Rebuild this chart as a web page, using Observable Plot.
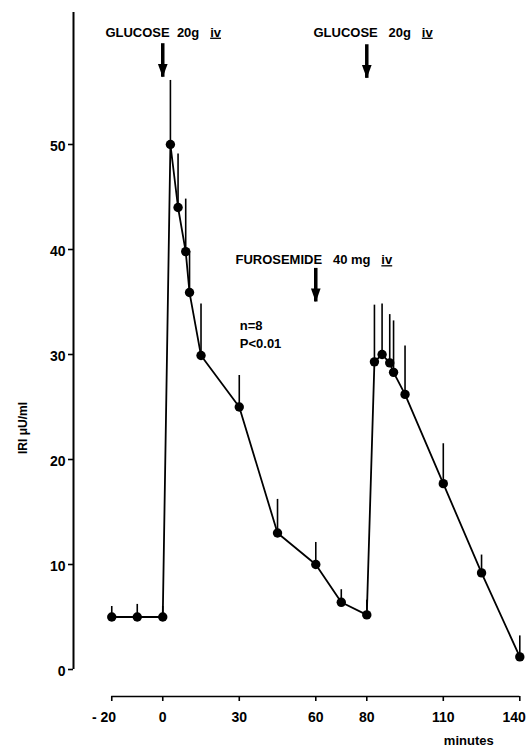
<!DOCTYPE html>
<html>
<head>
<meta charset="utf-8">
<script src="https://cdn.jsdelivr.net/npm/d3@7"></script>
<script src="https://cdn.jsdelivr.net/npm/@observablehq/plot@0.6"></script>
<style>
  html, body { margin: 0; padding: 0; background: white; }
  #chart svg { display: block; }
</style>
</head>
<body>
<div id="chart"></div>
<script>
// ---- data ----
const minutes = [-20, -10, 0, 3, 6, 9, 10.5, 15, 30, 45, 60, 70, 80, 83, 86, 89, 90.5, 95, 110, 125, 140];
const iriMean = [5, 5, 5, 50, 44, 39.8, 35.9, 29.9, 25, 13, 10, 6.4, 5.2, 29.3, 30, 29.2, 28.3, 26.2, 17.7, 9.2, 1.2];
const iriUpper = [6.0, 6.2, 6.0, 56.1, 49.1, 44.8, 39.8, 34.8, 28.0, 16.2, 12.1, 7.6, 6.6, 34.7, 34.8, 33.8, 33.2, 30.8, 21.5, 10.9, 3.2];

const xTicks = [-20, 0, 30, 60, 80, 110, 140];
const xTickLabels = ["- 20", "0", "30", "60", "80", "110", "140"];
const yTicks = [0, 10, 20, 30, 40, 50];

// injections (arrows): time, top of shaft, tip
const arrowMinutes = [0, 80, 60];
const arrowTop = [59.6, 59.5, 38.2];
const arrowTip = [56.4, 56.3, 35.0];

// annotation texts
const annotLabels = ["GLUCOSE  20g   iv", "GLUCOSE   20g   iv", "FUROSEMIDE   40 mg   iv", "n=8", "P<0.01"];
const annotMinutes = [-22.5, 59.1, 28.5, 30.2, 30.2];
const annotIRI = [60.67, 60.67, 39.0, 32.7, 31.05];

const yLabel = "IRI μU/ml";
const xLabel = "minutes";

// ---- tables built from the arrays ----
const data = minutes.map((t, i) => ({t, v: iriMean[i], hi: iriUpper[i]}));
const arrows = arrowMinutes.map((t, i) => ({t, top: arrowTop[i], tip: arrowTip[i]}));
const annots = annotLabels.map((s, i) => ({s: s.replace(/ /g, "\u00a0"), t: annotMinutes[i], v: annotIRI[i]}));

const yMin = -2.571, yMax = 62.571;

const lastTick = xTicks[xTicks.length - 1];
const lastLabel = xTickLabels[xTickLabels.length - 1];
// the first label sits a little left of its tick in the reference (padding on the right);
// the last one is drawn separately, right-aligned, so it stays inside the picture
const xFormat = d => d === lastTick ? "" :
  xTickLabels[xTicks.indexOf(d)] + (d === xTicks[0] ? "\u00a0\u00a0\u00a0\u00a0" : "");

// downward arrowhead symbol with its tip at the anchor point
const arrowHead = {
  draw(context, size) {
    const s = Math.sqrt(size);
    const w = 1.3 * s, h = 1.8 * s;
    context.moveTo(-w / 2, -h);
    context.lineTo(w / 2, -h);
    context.lineTo(0, 0);
    context.closePath();
  }
};

const chart = Plot.plot({
  width: 526,
  height: 749,
  marginLeft: 73,
  marginRight: 1.6,
  marginTop: 12,
  marginBottom: 53,
  x: {domain: [-35, 142]},
  y: {domain: [yMin, yMax]},
  style: {
    fontFamily: "'Liberation Sans', Arial, Helvetica, sans-serif",
    fontSize: "14px",
    fontWeight: "bold",
    background: "white",
    color: "black"
  },
  marks: [
    // y axis line
    Plot.ruleX([-35], {y1: 0, y2: yMax, stroke: "black", strokeWidth: 2}),
    // y tick marks only
    Plot.axisY({ticks: yTicks, tickSize: 5, strokeWidth: 1.6, stroke: "black", tickFormat: () => "", label: null}),
    // y tick labels only
    Plot.axisY({ticks: yTicks, tickSize: 0, tickPadding: 8, dy: 2.5, fill: "black", fontSize: 14, label: null}),
    // x axis line
    Plot.ruleY([yMin], {x1: xTicks[0], x2: lastTick, stroke: "black", strokeWidth: 1.6}),
    Plot.axisX({ticks: xTicks, tickFormat: xFormat, tickSize: 5, tickPadding: 11, strokeWidth: 1.6, label: null, fill: "black", fontSize: 14}),
    Plot.text([lastTick], {x: d => d, text: () => lastLabel, frameAnchor: "bottom", lineAnchor: "top", textAnchor: "end", dy: 16, dx: 6, fontSize: 14, fill: "black"}),
    Plot.text([xLabel], {x: 120, frameAnchor: "bottom", dy: 48, text: d => d, fontSize: 13, fill: "black"}),
    Plot.text([yLabel], {y: 23, frameAnchor: "left", dx: -50, rotate: -90, textAnchor: "middle", text: d => d, fontSize: 12, fill: "black"}),
    // error bars (upper SEM)
    Plot.ruleX(data, {x: "t", y1: "v", y2: "hi", stroke: "black", strokeWidth: 1.6}),
    // mean line and points
    Plot.line(data, {x: "t", y: "v", stroke: "black", strokeWidth: 1.8}),
    Plot.dot(data, {x: "t", y: "v", r: 4.7, fill: "black", stroke: "none"}),
    // injection arrows
    Plot.ruleX(arrows, {x: "t", y1: "top", y2: "tip", stroke: "black", strokeWidth: 3.5}),
    Plot.dot(arrows, {x: "t", y: "tip", symbol: arrowHead, r: 4.2, fill: "black", stroke: "none"}),
    // annotations
    Plot.text(annots, {x: "t", y: "v", text: "s", textAnchor: "start", fontSize: 13, fill: "black"})
  ]
});

// underline the "iv" abbreviations
d3.select(chart).selectAll("text").each(function () {
  const txt = this.textContent;
  if (this.childElementCount === 0 && /\u00a0iv$/.test(txt)) {
    const sel = d3.select(this);
    sel.text(txt.slice(0, -2));
    sel.append("tspan").attr("text-decoration", "underline").style("text-decoration", "underline").text("iv");
  }
});

document.getElementById("chart").appendChild(chart);
</script>
</body>
</html>
